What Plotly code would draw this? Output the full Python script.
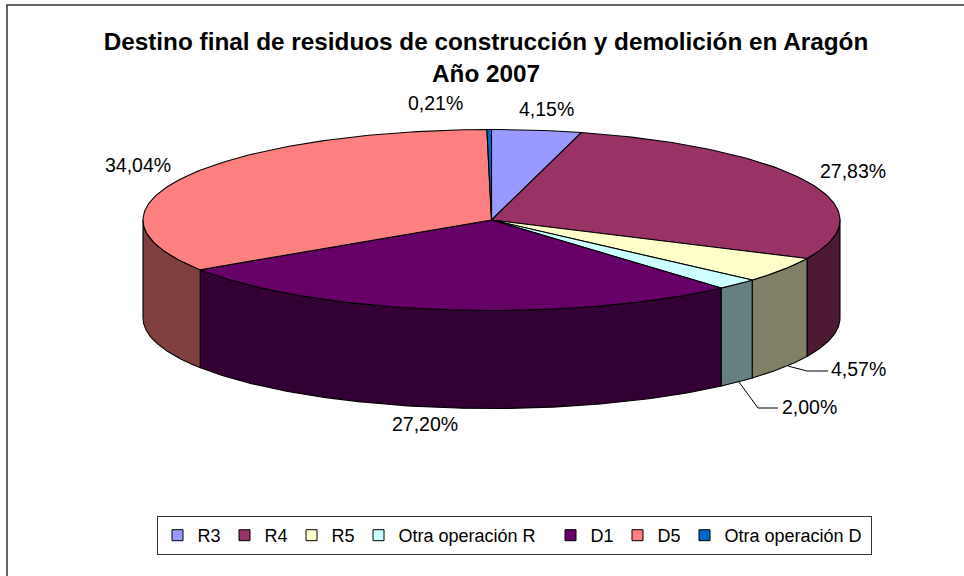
import numpy as np
import plotly.graph_objects as go

categories = ["R3", "R4", "R5", "Otra operación R", "D1", "D5", "Otra operación D"]
shares = [4.15, 27.83, 4.57, 2.00, 27.20, 34.04, 0.21]
top_colors = ["#9999FF", "#993366", "#FFFFCC", "#CCFFFF", "#660066", "#FF8080", "#0066CC"]
side_colors = ["#4D4D80", "#4D1933", "#808066", "#668080", "#330033", "#804040", "#003366"]
title_lines = ["Destino final de residuos de construcción y demolición en Aragón", "Año 2007"]
# label centre for each slice, in page pixels
label_x = [546, 853, 858, 809, 425, 138, 435]
label_y = [109, 171, 369, 407, 424, 165, 103]
# legend text widths that give the reference's entry spacing
legend_widths = [22, 22, 22, 147, 22, 22, 141]

W, H = 964, 576
CX, CY, RX, RY, DEPTH = 491.5, 220, 348.5, 90.5, 98
LABEL_FONT = "Liberation Sans, Arial, sans-serif"
EDGE = dict(color="#000000", width=1.1)


def ellipse(t, dy=0.0):
    return CX + RX * np.sin(t), CY - RY * np.cos(t) + dy


fig = go.Figure()
ends = np.cumsum(shares) / sum(shares) * 2 * np.pi
starts = np.concatenate([[0.0], ends[:-1]])

# side walls (visible front half only)
for a, b, col in zip(starts, ends, side_colors):
    lo, hi = max(a, np.pi / 2), min(b, 3 * np.pi / 2)
    if hi <= lo:
        continue
    t = np.linspace(lo, hi, 120)
    x1, y1 = ellipse(t)
    x2, y2 = ellipse(t[::-1], DEPTH)
    fig.add_trace(go.Scatter(
        x=np.concatenate([x1, x2, x1[:1]]), y=np.concatenate([y1, y2, y1[:1]]),
        mode="lines", fill="toself", fillcolor=col, line=EDGE,
        showlegend=False, hoverinfo="skip"))

# top faces
for a, b, col in zip(starts, ends, top_colors):
    t = np.linspace(a, b, max(3, int((b - a) * 60)))
    x1, y1 = ellipse(t)
    fig.add_trace(go.Scatter(
        x=np.concatenate([[CX], x1, [CX]]), y=np.concatenate([[CY], y1, [CY]]),
        mode="lines", fill="toself", fillcolor=col, line=EDGE,
        showlegend=False, hoverinfo="skip"))

# leader lines for the two small front slices
fig.add_trace(go.Scatter(x=[788, 807, 828], y=[366, 371, 371], mode="lines",
                         line=dict(color="#000000", width=1), showlegend=False, hoverinfo="skip"))
fig.add_trace(go.Scatter(x=[739, 758, 778], y=[382, 408, 408], mode="lines",
                         line=dict(color="#000000", width=1), showlegend=False, hoverinfo="skip"))

# legend entries
for name, col, lw in zip(categories, top_colors, legend_widths):
    fig.add_trace(go.Scatter(
        x=[None], y=[None], mode="markers", name=name, legendwidth=lw,
        marker=dict(symbol="square", size=11, color=col, line=dict(color="#000000", width=1))))

annotations = [
    dict(x=x, y=y, text=f"{v:.2f}%".replace(".", ","), showarrow=False,
         xanchor="center", yanchor="middle", font=dict(family=LABEL_FONT, size=19.5, color="#000000"))
    for x, y, v in zip(label_x, label_y, shares)
]
annotations.append(dict(x=486, y=73, text=title_lines[1], showarrow=False, xanchor="center", yanchor="middle",
                        font=dict(family=LABEL_FONT, size=24.3, color="#000000", weight="bold")))

fig.update_layout(
    width=W, height=H, autosize=False,
    margin=dict(l=0, r=0, t=0, b=0),
    paper_bgcolor="#FFFFFF", plot_bgcolor="#FFFFFF",
    title=dict(text=title_lines[0], x=486 / W, xanchor="center", y=1 - 41 / H, yanchor="middle",
               font=dict(family=LABEL_FONT, size=24.3, color="#000000", weight="bold")),
    xaxis=dict(range=[0, W], visible=False, fixedrange=True),
    yaxis=dict(range=[H, 0], visible=False, fixedrange=True),
    annotations=annotations,
    shapes=[dict(type="rect", x0=7, y0=5, x1=W + 10, y1=H + 10, line=dict(color="#333333", width=1.5), layer="below")],
    legend=dict(orientation="h", x=156.5 / W, xanchor="left", y=1 - 535.5 / H, yanchor="middle",
                bgcolor="#FFFFFF", bordercolor="#333333", borderwidth=1,
                font=dict(family=LABEL_FONT, size=18, color="#000000"),
                traceorder="normal", itemclick=False, itemdoubleclick=False),
)

fig.write_html("out.html", config=dict(displayModeBar=False),
               post_script="document.body.style.margin='0';document.body.style.overflow='hidden';")
